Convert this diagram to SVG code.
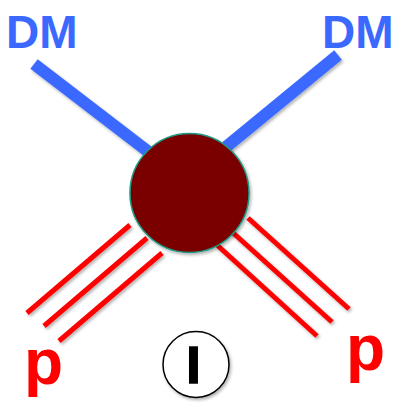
<svg xmlns="http://www.w3.org/2000/svg" width="403" height="404" viewBox="0 0 403 404">
  <defs>
    <filter id="shadow" x="-20%" y="-20%" width="140%" height="140%">
      <feDropShadow dx="1.5" dy="2" stdDeviation="1.5" flood-color="#000" flood-opacity="0.3"/>
    </filter>
  </defs>
  <style>
    .dm { stroke: #3b69ff; stroke-width: 12; fill: none; filter: url(#shadow); }
    .p { stroke: #ff0000; stroke-width: 5; fill: none; filter: url(#shadow); }
    .lbl-dm { font-family: "Liberation Sans", Arial, sans-serif; font-weight: bold; font-size: 46px; fill: #3b69ff; }
    .lbl-p { font-family: "Liberation Sans", Arial, sans-serif; font-weight: bold; font-size: 64px; fill: #ff0000; }
    .lbl-i { font-family: "Liberation Sans", Arial, sans-serif; font-weight: bold; font-size: 52px; fill: #000; stroke: #000; stroke-width: 1.5; text-anchor: middle; }
  </style>

  <!-- particle lines -->
  <g id="connectors">
    <line class="dm" x1="34" y1="64" x2="150" y2="153"/>
    <line class="dm" x1="338" y1="55" x2="226" y2="147"/>
    <line class="p" x1="27" y1="313" x2="130" y2="225"/>
    <line class="p" x1="44" y1="326" x2="147" y2="238"/>
    <line class="p" x1="59" y1="341" x2="162" y2="253"/>
    <line class="p" x1="248" y1="218" x2="349" y2="309"/>
    <line class="p" x1="231" y1="231" x2="332" y2="322"/>
    <line class="p" x1="217" y1="245" x2="317" y2="336"/>
  </g>

  <!-- interaction vertex -->
  <g id="vertex">
    <circle cx="189.5" cy="193" r="59.5" fill="#7a0000" stroke="#1c9a84" stroke-width="1.5" filter="url(#shadow)"/>
  </g>

  <g id="dm-left"><text class="lbl-dm" x="6" y="48">DM</text></g>
  <g id="dm-right"><text class="lbl-dm" x="322" y="48">DM</text></g>
  <g id="p-left"><text class="lbl-p" x="24" y="384">p</text></g>
  <g id="p-right"><text class="lbl-p" x="346" y="370">p</text></g>

  <!-- diagram index badge -->
  <g id="badge">
    <circle cx="196" cy="364.5" r="33" fill="#fff" stroke="#000" stroke-width="1.5" filter="url(#shadow)"/>
    <text class="lbl-i" x="193.5" y="382.5">I</text>
  </g>
</svg>
